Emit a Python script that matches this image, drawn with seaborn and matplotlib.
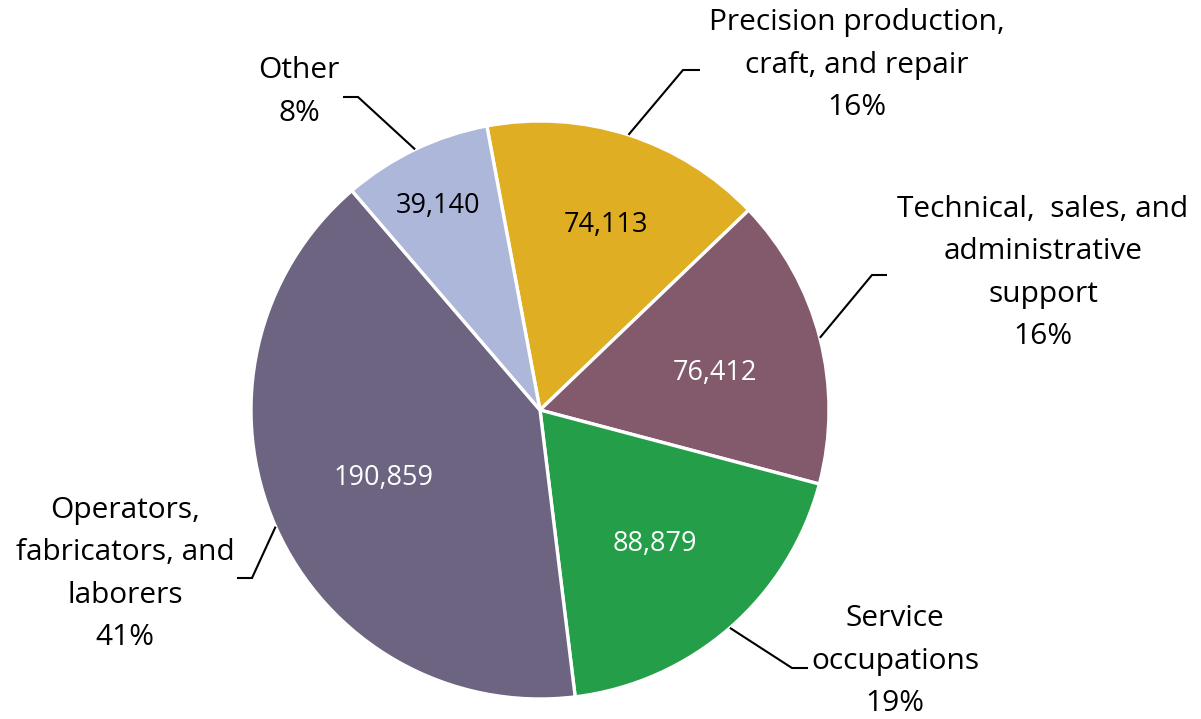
import numpy as np
import matplotlib
matplotlib.use("Agg")
import matplotlib.pyplot as plt
import seaborn as sns

# ---- data ----
categories = ["Precision production,\ncraft, and repair",
              "Technical,  sales, and\nadministrative\nsupport",
              "Service\noccupations",
              "Operators,\nfabricators, and\nlaborers",
              "Other"]
values = [74113, 76412, 88879, 190859, 39140]
percent_labels = ["16%", "16%", "19%", "41%", "8%"]
value_labels = ["74,113", "76,412", "88,879", "190,859", "39,140"]

# ---- styles / layout ----
colors = ["#E0AE22", "#825A6B", "#249E48", "#6D6481", "#ADB7DA"]
inner_text_colors = ["black", "white", "white", "white", "black"]
inner_r = [0.68, 0.62, 0.61, 0.59, 0.79]
inner_dang = [-1.9, -2.5, -0.5, -0.4, 1.0]
W, H = 1201, 719
CX, CY, R = 540, H - 410, 289
# outer label centers (pixels from top-left)
outer_pos = [(857, 65), (1043, 273), (895, 661), (125, 574), (299, 92)]
# leader elbow / end points (pixels from top-left)
leader_elbow = [(683, 70), (872, 275), (792, 668), (252, 578), (358, 97)]
leader_end = [(700, 70), (887, 275), (808, 668), (237, 578), (343, 97)]

sns.set_theme(style="white")
plt.rcParams['font.family'] = ['Open Sans', 'DejaVu Sans']

fig = plt.figure(figsize=(W / 100, H / 100), dpi=100)
ax = fig.add_axes([0, 0, 1, 1])

wedges, _ = ax.pie(values, colors=colors, startangle=100.6, counterclock=False,
                   center=(CX, CY), radius=R, frame=True,
                   wedgeprops=dict(edgecolor="white", linewidth=2.4))
ax.set_xlim(0, W)
ax.set_ylim(0, H)
ax.set_aspect('equal')
ax.axis('off')

for i, w in enumerate(wedges):
    mid = (w.theta1 + w.theta2) / 2
    a = np.deg2rad(mid + inner_dang[i])
    ax.text(CX + inner_r[i] * R * np.cos(a), CY + inner_r[i] * R * np.sin(a),
            value_labels[i], ha='center', va='center', fontsize=19.5,
            color=inner_text_colors[i])
    am = np.deg2rad(mid)
    ex, ey = CX + R * np.cos(am), CY + R * np.sin(am)
    bx, by = leader_elbow[i]
    tx, ty = leader_end[i]
    ax.plot([ex, bx, tx], [ey, H - by, H - ty], color="black", lw=1.5,
            solid_capstyle='butt', solid_joinstyle='miter')
    ox, oy = outer_pos[i]
    ax.text(ox, H - oy, categories[i] + "\n" + percent_labels[i], ha='center',
            va='center', multialignment='center', fontsize=21.5, color="black",
            linespacing=1.6)

fig.savefig("out.png", dpi=100)
